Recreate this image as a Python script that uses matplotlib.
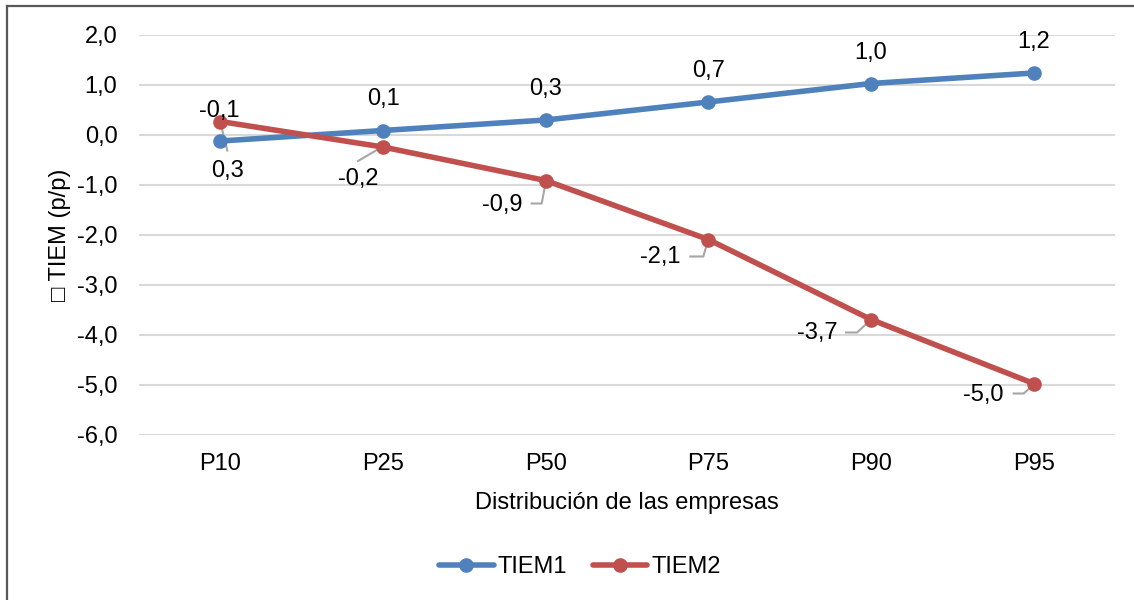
import matplotlib
matplotlib.use("Agg")
import matplotlib.pyplot as plt
import matplotlib.transforms as mtransforms
from matplotlib.lines import Line2D

# Data
categories = ["P10", "P25", "P50", "P75", "P90", "P95"]
tiem1 = [-0.12, 0.09, 0.30, 0.66, 1.03, 1.24]
tiem2 = [0.27, -0.24, -0.91, -2.09, -3.69, -4.97]
series_names = ["TIEM1", "TIEM2"]
y_ticks = [-6, -5, -4, -3, -2, -1, 0, 1, 2]

# Label placement (pixel offsets from each point, y measured downward)
lab1_off = [(-1, -30), (0, -31), (0, -31), (0, -31), (0, -31), (0, -31)]
lab2_off = [(7, 49), (-25, 32), (-43, 25), (-48, 18), (-54, 14), (-50, 12)]
leaders2 = [
    [(0, 1), (7, 29)],
    [(-25, 14), (-1, 0)],
    [(-14, 23), (-4, 23), (0, 2)],
    [(-18, 17), (-5, 17), (-1, 3)],
    [(-25, 13), (-14, 13), (-2, 2)],
    [(-20, 10), (-10, 10), (-1, 2)],
]

BLUE = "#4F81BD"
RED = "#C0504D"
FONT = "Liberation Sans"
FS = 17

plt.rcParams["font.family"] = [FONT, "DejaVu Sans"]

W, H = 1134, 600
fig = plt.figure(figsize=(W / 100, H / 100), dpi=100)
ax = fig.add_axes([139 / W, 1 - 435 / H, (1115 - 139) / W, (435 - 35) / H])

x = list(range(len(categories)))
ax.plot(x, tiem1, color=BLUE, lw=4.0, marker="o", ms=9.5, label=series_names[0],
        solid_capstyle="round", zorder=3)
ax.plot(x, tiem2, color=RED, lw=4.0, marker="o", ms=9.5, label=series_names[1],
        solid_capstyle="round", zorder=3)

ax.set_xlim(-0.5, len(categories) - 0.5)
ax.set_ylim(-6, 2)
ax.set_yticks(y_ticks)
ax.set_yticklabels([f"{t:.1f}".replace(".", ",") for t in y_ticks], fontsize=FS)
ax.set_xticks(x)
ax.set_xticklabels(categories, fontsize=FS)
ax.tick_params(axis="x", length=0, pad=13)
ax.tick_params(axis="y", length=0, pad=15.5)
ax.grid(axis="y", color="#D9D9D9", lw=1.5)
ax.set_axisbelow(True)
for s in ax.spines.values():
    s.set_visible(False)

ax.set_xlabel("Distribución de las empresas", fontsize=FS, labelpad=12)
ax.set_ylabel("\u25a1 TIEM (p/p)", fontsize=FS, labelpad=4.5)


def fmt(v):
    return f"{v:.1f}".replace(".", ",")


for i, v in enumerate(tiem1):
    dx, dy = lab1_off[i]
    ax.annotate(fmt(v), (i, v), xytext=(dx, -dy), textcoords="offset pixels",
                ha="center", va="center", fontsize=FS, zorder=4)

for i, v in enumerate(tiem2):
    dx, dy = lab2_off[i]
    ax.annotate(fmt(v), (i, v), xytext=(dx, -dy), textcoords="offset pixels",
                ha="center", va="center", fontsize=FS, zorder=4)
    tr = mtransforms.Affine2D().scale(1, -1) + mtransforms.ScaledTranslation(i, v, ax.transData)
    pts = leaders2[i]
    ax.plot([p[0] for p in pts], [p[1] for p in pts], color="#A6A6A6", lw=1.5,
            transform=tr, zorder=2, clip_on=False)

fig.legend(loc="center", bbox_to_anchor=(580 / W, 1 - 567 / H), ncol=2, frameon=False,
           fontsize=FS, handlelength=2.3, handletextpad=0.17, columnspacing=1.1)

# Chart area border (top and left edges)
fig.add_artist(Line2D([7 / W, 7 / W], [0, 1 - 6 / H], color="#595959", lw=1.6,
                      transform=fig.transFigure))
fig.add_artist(Line2D([7 / W, 1], [1 - 6 / H, 1 - 6 / H], color="#595959", lw=1.6,
                      transform=fig.transFigure))

fig.savefig("out.png", dpi=100, facecolor="white")
